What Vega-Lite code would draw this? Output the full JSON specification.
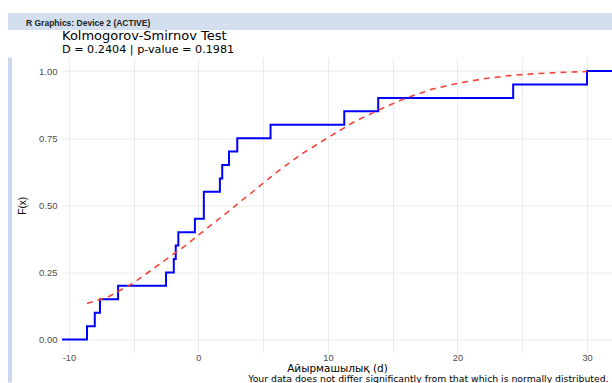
{
  "$schema": "https://vega.github.io/schema/vega-lite/v6.json",
  "background": "white",
  "padding": {"left": 8, "top": 13, "right": 0, "bottom": 0},
  "bounds": "flush",
  "spacing": 27.6,
  "config": {"font": "Liberation Sans", "view": {"stroke": null}},
  "datasets": {
    "ecdf": [
      {"x": -10.53, "F": 0},
      {"x": -8.6, "F": 0.05},
      {"x": -8.0, "F": 0.10},
      {"x": -7.6, "F": 0.15},
      {"x": -6.2, "F": 0.20},
      {"x": -2.5, "F": 0.25},
      {"x": -1.9, "F": 0.30},
      {"x": -1.75, "F": 0.35},
      {"x": -1.55, "F": 0.40},
      {"x": -0.27, "F": 0.45},
      {"x": 0.42, "F": 0.55},
      {"x": 1.66, "F": 0.60},
      {"x": 1.84, "F": 0.65},
      {"x": 2.36, "F": 0.70},
      {"x": 3.0, "F": 0.75},
      {"x": 5.57, "F": 0.80},
      {"x": 11.26, "F": 0.85},
      {"x": 13.88, "F": 0.90},
      {"x": 24.3, "F": 0.95},
      {"x": 30.0, "F": 1.00},
      {"x": 31.93, "F": 1.00}
    ],
    "normal": [
      {"x": -8.6, "F": 0.134},
      {"x": -7, "F": 0.158},
      {"x": -5, "F": 0.211},
      {"x": -3, "F": 0.281},
      {"x": -1, "F": 0.35},
      {"x": 0, "F": 0.389},
      {"x": 2, "F": 0.465},
      {"x": 4, "F": 0.543},
      {"x": 6, "F": 0.622},
      {"x": 8, "F": 0.692},
      {"x": 10, "F": 0.752},
      {"x": 12, "F": 0.81},
      {"x": 14, "F": 0.857},
      {"x": 16, "F": 0.899},
      {"x": 18, "F": 0.932},
      {"x": 20, "F": 0.954},
      {"x": 22, "F": 0.971},
      {"x": 24, "F": 0.983},
      {"x": 26, "F": 0.99},
      {"x": 28, "F": 0.995},
      {"x": 30, "F": 0.998}
    ]
  },
  "vconcat": [
    {
      "width": 604,
      "height": 17,
      "view": {"fill": "#d3dfee", "stroke": null},
      "title": {"text": "R Graphics: Device 2 (ACTIVE)", "anchor": "start", "frame": "group", "offset": -14, "dx": 18, "fontSize": 8.5, "fontWeight": "bold", "color": "#222222"},
      "data": {"values": [{}]},
      "mark": {"type": "text", "text": ""},
      "encoding": {}
    },
    {
      "bounds": "flush",
      "spacing": 50,
      "hconcat": [
        {
          "width": 4,
          "height": 325,
          "view": {"fill": "#c9d8ee", "stroke": null},
          "data": {"values": [{}]},
          "mark": {"type": "text", "text": ""},
          "encoding": {}
        },
        {
          "width": 550,
          "height": 295.4,
          "title": {"text": "Kolmogorov-Smirnov Test", "subtitle": "D = 0.2404 | p-value = 0.1981", "anchor": "start", "frame": "group", "font": "DejaVu Sans", "subtitleFont": "DejaVu Sans", "fontSize": 13, "fontWeight": "normal", "color": "black", "subtitleFontSize": 11.2, "subtitleColor": "black", "subtitlePadding": 1, "offset": 2},
          "resolve": {"scale": {"x": "independent"}},
          "layer": [
            {
              "data": {"name": "ecdf"},
              "mark": {"type": "line", "interpolate": "step-after", "color": "#0000ff", "strokeWidth": 2, "clip": true},
              "encoding": {
                "x": {"field": "x", "type": "quantitative",
                  "scale": {"domain": [-10.53, 31.93], "nice": false, "zero": false},
                  "axis": {"orient": "bottom", "values": [-10, -5, 0, 5, 10, 15, 20, 25, 30],
                    "labelExpr": "datum.value % 10 === 0 ? '' + datum.value : ''",
                    "grid": true, "gridColor": "#ebebeb", "gridWidth": 1, "domain": false, "ticks": false,
                    "labelColor": "#4d4d4d", "labelFontSize": 9.2, "labelPadding": 0.5,
                    "title": "Айырмашылық (d)", "titleFont": "DejaVu Sans", "titleFontSize": 10.5, "titleFontWeight": "normal", "titleColor": "black",
                    "titleY": 18, "titleBaseline": "alphabetic"}},
                "y": {"field": "F", "type": "quantitative",
                  "scale": {"domain": [-0.05, 1.05], "nice": false, "zero": false},
                  "axis": {"values": [0, 0.125, 0.25, 0.375, 0.5, 0.625, 0.75, 0.875, 1],
                    "labelExpr": "(datum.value * 4) % 1 === 0 ? format(datum.value, '.2f') : ''",
                    "grid": true, "gridColor": "#ebebeb", "gridWidth": 1, "domain": false, "ticks": false,
                    "labelColor": "#4d4d4d", "labelFontSize": 9.5, "labelPadding": 5,
                    "title": "F(x)", "titleFontSize": 10, "titleFontWeight": "normal", "titleColor": "black",
                    "titleX": -40, "titleBaseline": "middle"}}
              }
            },
            {
              "data": {"name": "normal"},
              "mark": {"type": "line", "color": "#f2473a", "strokeWidth": 1.6, "strokeDash": [6, 5], "clip": true},
              "encoding": {
                "x": {"field": "x", "type": "quantitative",
                  "scale": {"domain": [-10.53, 31.93], "nice": false, "zero": false},
                  "axis": {"orient": "bottom", "labels": false, "ticks": false, "domain": false, "grid": false,
                    "title": "Your data does not differ significantly from that which is normally distributed.",
                    "titleFont": "DejaVu Sans", "titleFontSize": 9.3, "titleFontWeight": "normal", "titleColor": "black",
                    "titleAnchor": "end", "titleAlign": "right", "titleX": 546, "titleY": 28.3, "titleBaseline": "alphabetic"}},
                "y": {"field": "F", "type": "quantitative"}
              }
            }
          ]
        }
      ]
    }
  ]
}
